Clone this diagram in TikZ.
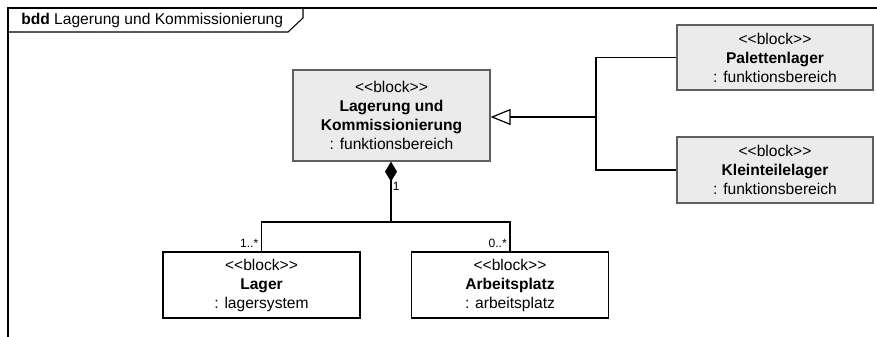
\documentclass[tikz,border=0pt]{standalone}
\usepackage{fontspec}
\setmainfont{Liberation Sans}
\usetikzlibrary{arrows.meta}
\definecolor{blockfill}{RGB}{235,235,235}
\definecolor{blockline}{RGB}{95,95,95}
% stereotype text, kept as two separate angle brackets
\newcommand{\stereotype}[1]{<\kern0pt<#1>\kern0pt>}
\begin{document}
\begin{tikzpicture}[x=0.75pt,y=-0.75pt,
  every node/.style={inner sep=0pt, font=\fontsize{11.7}{14.25}\selectfont},
  fnblock/.style={draw=blockline, fill=blockfill, line width=0.9pt, align=center},
  partblock/.style={draw=black, fill=white, line width=0.9pt, align=center},
  conn/.style={draw=black, line width=0.9pt},
  mult/.style={font=\fontsize{9}{10}\selectfont}
]
\clip (0,0) rectangle (877,336);

% diagram frame with its name tab
\draw[line width=1pt] (8,8) rectangle (900,360);
\draw[line width=0.8pt] (8,32) -- (288,32) -- (303,18) -- (303,8);
\node[anchor=west] (title) at (21,20.5) {\textbf{bdd} Lagerung und Kommissionierung};

% blocks
\node[fnblock, minimum width=147.75pt, minimum height=68.25pt] (main) at (391.5,115.5)
  {\stereotype{block}\\ \textbf{Lagerung und}\\ \textbf{Kommissionierung}\\ : funktionsbereich};
\node[fnblock, minimum width=147pt, minimum height=48.75pt] (pal) at (775,57.5)
  {\stereotype{block}\\ \textbf{Palettenlager}\\ : funktionsbereich};
\node[fnblock, minimum width=147pt, minimum height=49.5pt] (klein) at (775,170)
  {\stereotype{block}\\ \textbf{Kleinteilelager}\\ : funktionsbereich};
\node[partblock, minimum width=147.75pt, minimum height=49.5pt] (lager) at (261.5,285)
  {\stereotype{block}\\ \textbf{Lager}\\ : lagersystem};
\node[partblock, minimum width=147.75pt, minimum height=49.5pt] (arb) at (510,285)
  {\stereotype{block}\\ \textbf{Arbeitsplatz}\\ : arbeitsplatz};

% generalization
\coordinate (gj) at (596,117);
\draw[conn] (pal.west) -| (gj);
\draw[conn] (klein.west) -| (gj);
\draw[conn, -{Triangle[open, length=15pt, width=12pt]}] (gj) -- (gj -| main.east);

% composition
\coordinate (cj) at (391,222);
\draw[conn, {Diamond[length=15pt, width=9pt]}-] (cj |- main.south) -- (cj);
\draw[conn] (lager.north) |- (cj) -| (arb.north);

% multiplicities
\node[mult, anchor=west] (m1) at (392.5,186) {1};
\node[mult, anchor=east] (m2) at (258.5,243) {1..*};
\node[mult, anchor=east] (m3) at (507,243) {0..*};
\end{tikzpicture}
\end{document}
